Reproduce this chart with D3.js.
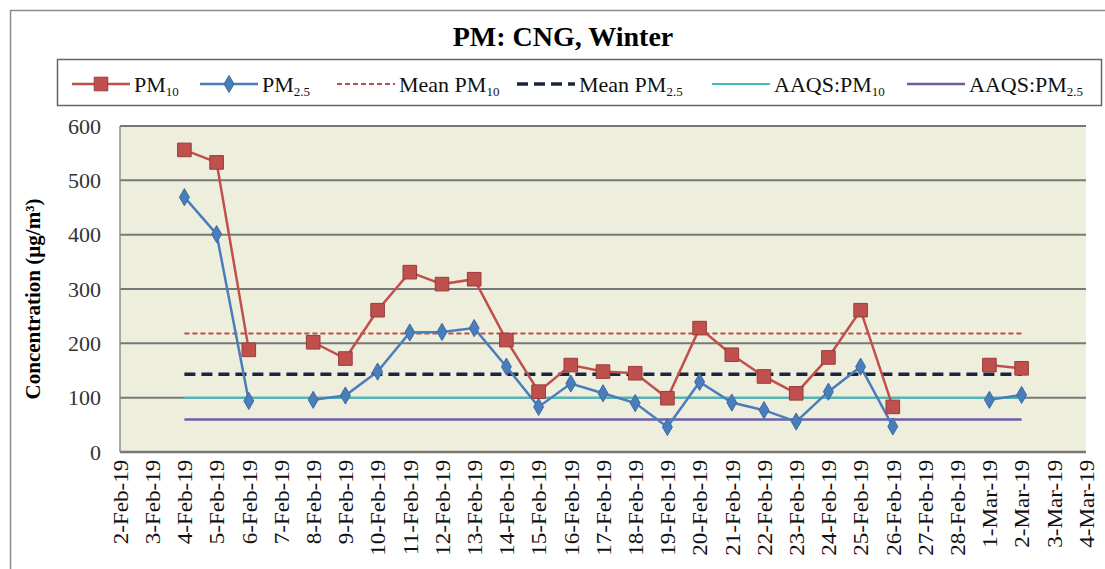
<!DOCTYPE html>
<html>
<head>
<meta charset="utf-8">
<script src="https://cdn.jsdelivr.net/npm/d3@7"></script>
<style>
  body { margin: 0; background: #fff; }
  svg text { font-family: "Liberation Serif", "Tinos", "Times New Roman", Times, "DejaVu Serif", serif; }
</style>
</head>
<body>
<div id="wrapper"></div>
<script>
// data
const dates = [
  "2-Feb-19","3-Feb-19","4-Feb-19","5-Feb-19","6-Feb-19","7-Feb-19","8-Feb-19","9-Feb-19",
  "10-Feb-19","11-Feb-19","12-Feb-19","13-Feb-19","14-Feb-19","15-Feb-19","16-Feb-19",
  "17-Feb-19","18-Feb-19","19-Feb-19","20-Feb-19","21-Feb-19","22-Feb-19","23-Feb-19",
  "24-Feb-19","25-Feb-19","26-Feb-19","27-Feb-19","28-Feb-19","1-Mar-19","2-Mar-19",
  "3-Mar-19","4-Mar-19"
]
const pm10 = [
  null, null, 556, 533, 188, null, 202, 172,
  261, 331, 309, 318, 206, 111, 160,
  148, 145, 99, 228, 179, 139, 108,
  174, 261, 83, null, null, 160, 154,
  null, null
]
const pm25 = [
  null, null, 469, 401, 94, null, 96, 104,
  148, 220, 221, 228, 157, 83, 126,
  108, 90, 46, 129, 91, 77, 56,
  111, 157, 47, null, null, 96, 105,
  null, null
]
const meanPM10 = 218
const meanPM25 = 143
const aaqsPM10 = 100
const aaqsPM25 = 60
const yTicks = [0, 100, 200, 300, 400, 500, 600]
const refStart = "4-Feb-19"
const refEnd = "2-Mar-19"

const legendItems = [
  {name: "PM", sub: "10", key: "pm10"},
  {name: "PM", sub: "2.5", key: "pm25"},
  {name: "Mean PM", sub: "10", key: "mean10"},
  {name: "Mean PM", sub: "2.5", key: "mean25"},
  {name: "AAQS:PM", sub: "10", key: "aaqs10"},
  {name: "AAQS:PM", sub: "2.5", key: "aaqs25"},
]

const colors = {
  pm10: "#c0504d", pm10Dark: "#9a3b39",
  pm25: "#4a7ebb", pm25Dark: "#3a6aa5",
  mean10: "#b5514e", mean25: "#1b2540",
  aaqs10: "#3cc0c0", aaqs25: "#6e5ea8"
}

const width = 1105
const height = 569
const plot = {left: 120, right: 1086, top: 126, bottom: 452}

const svg = d3.select("#wrapper").append("svg")
  .attr("width", width)
  .attr("height", height)

// outer frame
svg.append("rect")
  .attr("x", 10.5).attr("y", 10.5)
  .attr("width", 1120).attr("height", 600)
  .attr("fill", "#fff")
  .attr("stroke", "#8c8c8c")
  .attr("stroke-width", 1.5)

const xScale = d3.scalePoint()
  .domain(dates)
  .range([plot.left, plot.right])

const yScale = d3.scaleLinear()
  .domain([0, 600])
  .range([plot.bottom, plot.top])

// plot background
svg.append("rect")
  .attr("x", plot.left).attr("y", plot.top)
  .attr("width", plot.right - plot.left)
  .attr("height", plot.bottom - plot.top)
  .attr("fill", "#eeeedd")

// gridlines
svg.append("g")
  .selectAll("line")
  .data(yTicks)
  .join("line")
  .attr("x1", plot.left).attr("x2", plot.right)
  .attr("y1", d => yScale(d)).attr("y2", d => yScale(d))
  .attr("stroke", "#777")
  .attr("stroke-width", d => d === 0 ? 2.5 : 2)

svg.append("line")
  .attr("x1", plot.left).attr("x2", plot.left)
  .attr("y1", plot.top).attr("y2", plot.bottom)
  .attr("stroke", "#8c8c8c")
  .attr("stroke-width", 1.5)

// y axis
const yAxis = svg.append("g")
  .attr("transform", `translate(${plot.left},0)`)
  .call(d3.axisLeft(yScale).tickValues(yTicks).tickSize(0).tickPadding(19))
yAxis.attr("font-family", null)
yAxis.select(".domain").remove()
yAxis.selectAll("text")
  .attr("font-size", 22)
  .attr("fill", "#333")

// x axis
const xAxis = svg.append("g")
  .attr("transform", `translate(0,${plot.bottom})`)
  .call(d3.axisBottom(xScale).tickSize(0))
xAxis.attr("font-family", null)
xAxis.select(".domain").remove()
xAxis.selectAll("text")
  .attr("font-size", 21)
  .attr("fill", "#111")
  .attr("transform", "rotate(-90) scale(1.1,1)")
  .attr("text-anchor", "end")
  .attr("x", -7)
  .attr("y", 0)
  .attr("dy", "0.35em")

// reference lines
const refLines = [
  {v: meanPM10, color: colors.mean10, w: 2, dash: "5,3"},
  {v: meanPM25, color: colors.mean25, w: 3.5, dash: "11,6"},
  {v: aaqsPM10, color: colors.aaqs10, w: 2, dash: null},
  {v: aaqsPM25, color: colors.aaqs25, w: 2.5, dash: null},
]
svg.append("g")
  .selectAll("line")
  .data(refLines)
  .join("line")
  .attr("x1", xScale(refStart)).attr("x2", xScale(refEnd))
  .attr("y1", d => yScale(d.v)).attr("y2", d => yScale(d.v))
  .attr("stroke", d => d.color)
  .attr("stroke-width", d => d.w)
  .attr("stroke-dasharray", d => d.dash)

// series
const lineGenerator = d3.line()
  .defined(d => d.v != null)
  .x(d => xScale(d.date))
  .y(d => yScale(d.v))

const pm10Data = dates.map((date, i) => ({date, v: pm10[i]}))
const pm25Data = dates.map((date, i) => ({date, v: pm25[i]}))

svg.append("path")
  .attr("d", lineGenerator(pm10Data))
  .attr("fill", "none")
  .attr("stroke", colors.pm10)
  .attr("stroke-width", 2.5)

svg.append("path")
  .attr("d", lineGenerator(pm25Data))
  .attr("fill", "none")
  .attr("stroke", colors.pm25)
  .attr("stroke-width", 2.5)

const square = d3.symbol().type(d3.symbolSquare).size(185)
const diamond = d3.symbol().type(d3.symbolDiamond).size(85)

svg.append("g")
  .selectAll("path")
  .data(pm25Data.filter(d => d.v != null))
  .join("path")
  .attr("d", diamond)
  .attr("transform", d => `translate(${xScale(d.date)},${yScale(d.v)})`)
  .attr("fill", colors.pm25)
  .attr("stroke", colors.pm25Dark)
  .attr("stroke-width", 1)

svg.append("g")
  .selectAll("path")
  .data(pm10Data.filter(d => d.v != null))
  .join("path")
  .attr("d", square)
  .attr("transform", d => `translate(${xScale(d.date)},${yScale(d.v)})`)
  .attr("fill", colors.pm10)
  .attr("stroke", colors.pm10Dark)
  .attr("stroke-width", 1)

// title
svg.append("text")
  .attr("x", 563).attr("y", 46)
  .attr("text-anchor", "middle")
  .attr("font-size", 28)
  .attr("font-weight", "bold")
  .text("PM: CNG, Winter")

// y title
svg.append("text")
  .attr("transform", `translate(40,${(plot.top + plot.bottom) / 2 + 10}) rotate(-90)`)
  .attr("text-anchor", "middle")
  .attr("font-size", 21)
  .attr("font-weight", "bold")
  .text("Concentration (µg/m³)")

// legend
svg.append("rect")
  .attr("x", 57.5).attr("y", 59.5)
  .attr("width", 1044).attr("height", 46)
  .attr("fill", "#fff")
  .attr("stroke", "#666")
  .attr("stroke-width", 1.5)

const legendX = [72, 200, 337, 517, 712, 907]
const sampleW = 58
const legendY = 84

const legend = svg.append("g")
  .selectAll("g")
  .data(legendItems)
  .join("g")
  .attr("transform", (d, i) => `translate(${legendX[i]},${legendY})`)

legend.each(function(d) {
  const g = d3.select(this)
  const ref = refLines[["mean10", "mean25", "aaqs10", "aaqs25"].indexOf(d.key)]
  g.append("line")
    .attr("x1", 0).attr("x2", sampleW)
    .attr("stroke", colors[d.key])
    .attr("stroke-width", ref ? ref.w : 2.5)
    .attr("stroke-dasharray", ref ? ref.dash : null)
  if (d.key === "pm10") {
    g.append("path").attr("d", square).attr("transform", `translate(${sampleW / 2},0)`)
      .attr("fill", colors.pm10).attr("stroke", colors.pm10Dark)
  }
  if (d.key === "pm25") {
    g.append("path").attr("d", diamond).attr("transform", `translate(${sampleW / 2},0)`)
      .attr("fill", colors.pm25).attr("stroke", colors.pm25Dark)
  }
  const t = g.append("text")
    .attr("x", sampleW + 4)
    .attr("dy", "0.35em")
    .attr("font-size", 22)
    .attr("fill", "#111")
  t.append("tspan").text(d.name)
  t.append("tspan").attr("font-size", 13).attr("dy", 4).text(d.sub)
})
</script>
</body>
</html>
